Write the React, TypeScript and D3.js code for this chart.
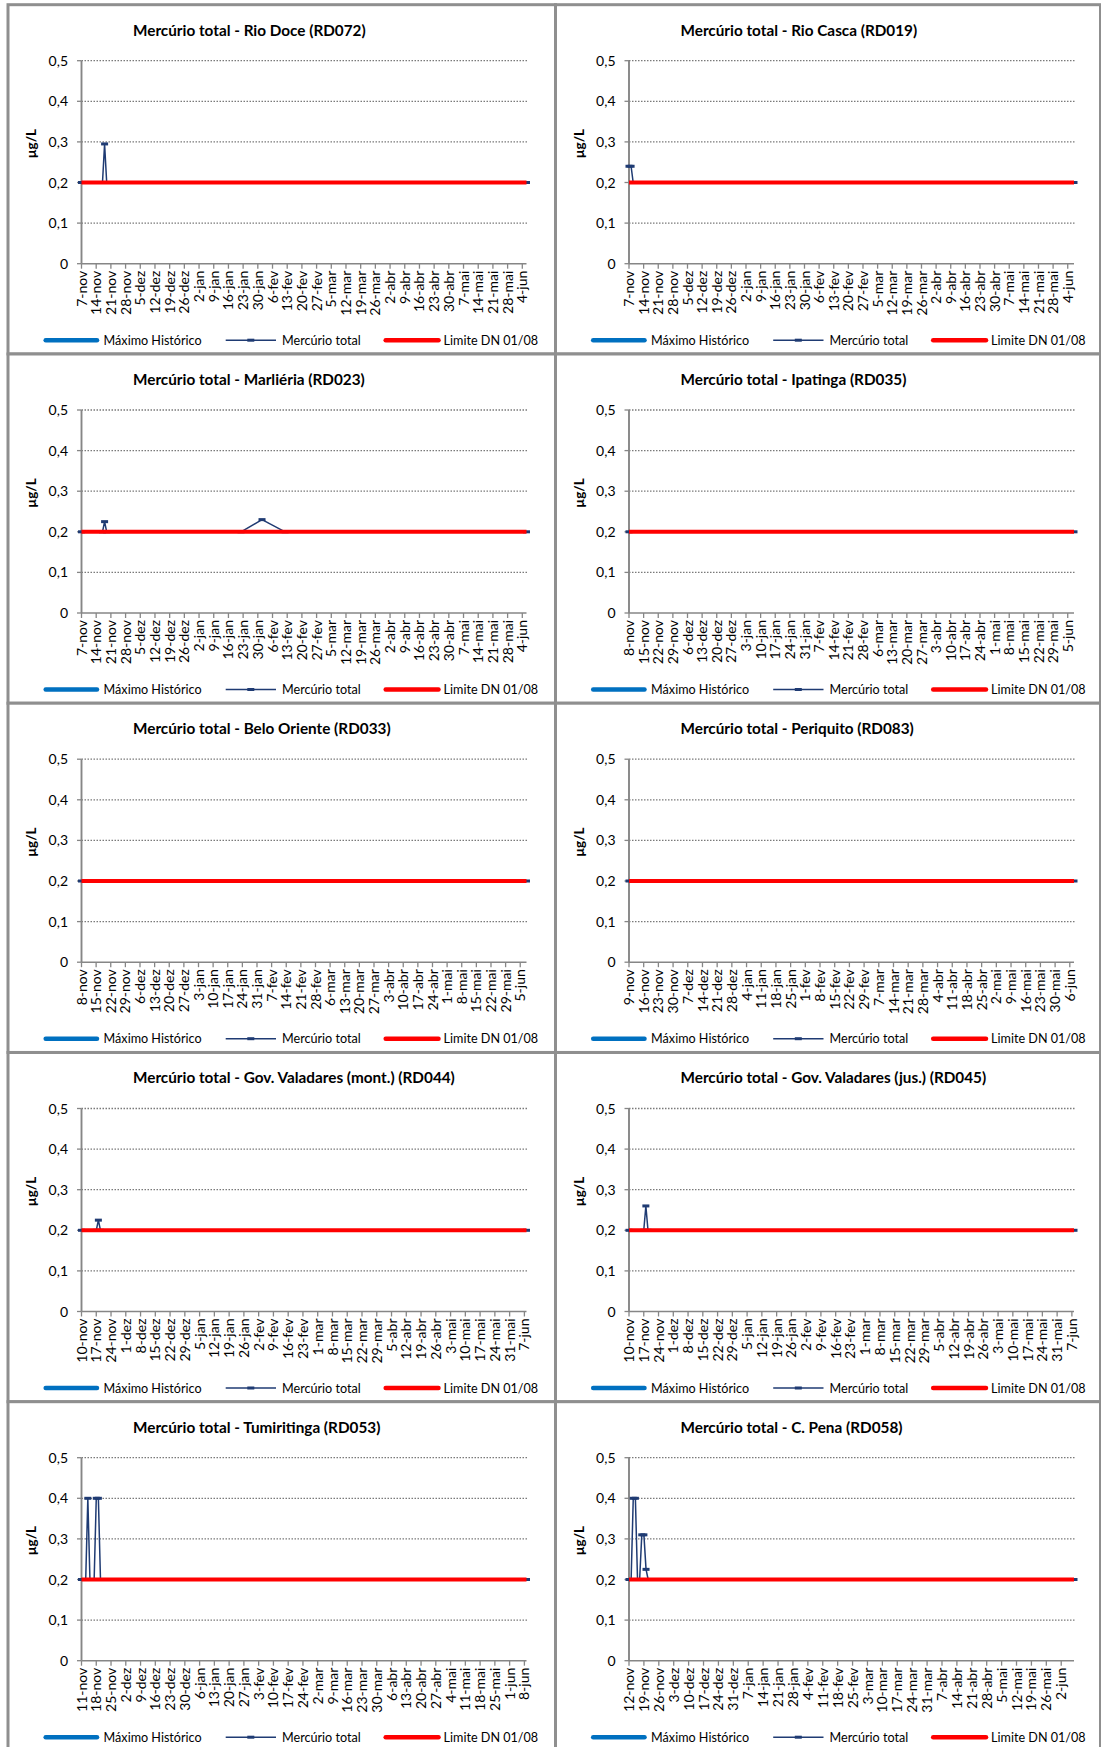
import React from "react";
import * as d3 from "d3";

// ---------- data ----------
const MONTHS_PT = ["jan", "fev", "mar", "abr", "mai", "jun", "jul", "ago", "set", "out", "nov", "dez"];
const Y_TICK_VALUES = [0, 0.1, 0.2, 0.3, 0.4, 0.5];
const Y_TICK_LABELS = ["0", "0,1", "0,2", "0,3", "0,4", "0,5"];
const Y_MAX = 0.5;
const Y_TITLE = "µg/L";
const LIMITE_DN = 0.2;
const LEGEND_LABELS = ["Máximo Histórico", "Mercúrio total", "Limite DN 01/08"];

const TITLES = [
  "Mercúrio total - Rio Doce (RD072)",
  "Mercúrio total - Rio Casca (RD019)",
  "Mercúrio total - Marliéria (RD023)",
  "Mercúrio total - Ipatinga (RD035)",
  "Mercúrio total - Belo Oriente (RD033)",
  "Mercúrio total - Periquito (RD083)",
  "Mercúrio total - Gov. Valadares (mont.) (RD044)",
  "Mercúrio total - Gov. Valadares (jus.) (RD045)",
  "Mercúrio total - Tumiritinga (RD053)",
  "Mercúrio total - C. Pena (RD058)",
];
const START_DATES = [
  "2015-11-07", "2015-11-07", "2015-11-07", "2015-11-08", "2015-11-08",
  "2015-11-09", "2015-11-10", "2015-11-10", "2015-11-11", "2015-11-12",
];
const END_DATES = [
  "2016-06-06", "2016-06-07", "2016-06-06", "2016-06-08", "2016-06-08",
  "2016-06-08", "2016-06-08", "2016-06-08", "2016-06-09", "2016-06-08",
];

type Pt = [string, number];
const HG_RD072: Pt[] = [["2015-11-07", 0.2], ["2015-11-17", 0.2], ["2015-11-18", 0.295], ["2015-11-19", 0.2], ["2016-06-06", 0.2]];
const HG_RD019: Pt[] = [["2015-11-07", 0.24], ["2015-11-08", 0.24], ["2015-11-09", 0.2], ["2016-06-07", 0.2]];
const HG_RD023: Pt[] = [["2015-11-07", 0.2], ["2015-11-17", 0.2], ["2015-11-18", 0.225], ["2015-11-19", 0.2], ["2016-01-22", 0.2], ["2016-02-01", 0.23], ["2016-02-12", 0.2], ["2016-06-06", 0.2]];
const HG_RD035: Pt[] = [["2015-11-08", 0.2], ["2016-06-08", 0.2]];
const HG_RD033: Pt[] = [["2015-11-08", 0.2], ["2016-06-08", 0.2]];
const HG_RD083: Pt[] = [["2015-11-09", 0.2], ["2016-06-08", 0.2]];
const HG_RD044: Pt[] = [["2015-11-10", 0.2], ["2015-11-17", 0.2], ["2015-11-18", 0.225], ["2015-11-19", 0.2], ["2016-06-08", 0.2]];
const HG_RD045: Pt[] = [["2015-11-10", 0.2], ["2015-11-17", 0.2], ["2015-11-18", 0.26], ["2015-11-19", 0.2], ["2016-06-08", 0.2]];
const HG_RD053: Pt[] = [["2015-11-11", 0.2], ["2015-11-13", 0.2], ["2015-11-14", 0.4], ["2015-11-15", 0.2], ["2015-11-17", 0.2], ["2015-11-18", 0.4], ["2015-11-19", 0.4], ["2015-11-20", 0.2], ["2016-06-09", 0.2]];
const HG_RD058: Pt[] = [["2015-11-12", 0.2], ["2015-11-13", 0.2], ["2015-11-14", 0.4], ["2015-11-15", 0.4], ["2015-11-16", 0.2], ["2015-11-17", 0.2], ["2015-11-18", 0.31], ["2015-11-19", 0.31], ["2015-11-20", 0.225], ["2015-11-21", 0.2], ["2016-06-08", 0.2]];
const HG_SERIES = [HG_RD072, HG_RD019, HG_RD023, HG_RD035, HG_RD033, HG_RD083, HG_RD044, HG_RD045, HG_RD053, HG_RD058];

// ---------- style / layout ----------
const W = 1101;
const H = 1747;
const COL_X = [8, 555.5];
const COL_W = [547.5, 545];
const ROW_Y = [4.7, 354, 703.2, 1052.5, 1401.7];
const ROW_H = 349.25;
const FONT = "Lato, 'Open Sans', sans-serif";
const C_MAX = "#0070C0";
const C_HG = "#1F3B73";
const C_LIM = "#FF0000";
const C_AXIS = "#868686";
const C_GRID = "#7a7a7a";
const C_TEXT = "#000000";
const TICK_FS = 14;
const LEGEND_FS = 12.6;
const TITLE_FS = 15.3;

const parse = d3.utcParse("%Y-%m-%d");

function Panel({ idx }: { idx: number }) {
  const col = idx % 2;
  const row = Math.floor(idx / 2);
  const x0 = COL_X[col];
  const y0 = ROW_Y[row];
  const start = parse(START_DATES[idx]) as Date;
  const end = parse(END_DATES[idx]) as Date;
  const x = d3.scaleUtc().domain([start, end]).range([x0 + 73.5, x0 + 518.5]);
  const y = d3.scaleLinear().domain([0, Y_MAX]).range([y0 + 259, y0 + 56]);
  const ticks = d3.utcDay.range(start, d3.utcDay.offset(end, 1), 7);
  const fmt = (d: Date) => `${d.getUTCDate()}-${MONTHS_PT[d.getUTCMonth()]}`;
  const line = d3
    .line<Pt>()
    .x((d) => x(parse(d[0]) as Date))
    .y((d) => y(d[1]));
  const hg = HG_SERIES[idx];
  const limite: Pt[] = [[START_DATES[idx], LIMITE_DN], [END_DATES[idx], LIMITE_DN]];
  const axisX = x0 + 73.5;
  const baseY = y(0);
  const ly = y0 + 335.5;

  return (
    <g>
      {/* title */}
      <text x={x0 + 125} y={y0 + 30.8} fontFamily={FONT} fontWeight="bold" fontSize={TITLE_FS} fill={C_TEXT}>
        {TITLES[idx]}
      </text>
      {/* y axis title */}
      <text
        transform={`translate(${x0 + 28},${y0 + 139}) rotate(-90)`}
        textAnchor="middle"
        fontFamily={FONT}
        fontWeight="bold"
        fontSize={13.5}
        fill={C_TEXT}
      >
        {Y_TITLE}
      </text>
      {/* gridlines */}
      {Y_TICK_VALUES.filter((v) => v > 0).map((v) => (
        <line key={"g" + v} x1={axisX} x2={x0 + 519} y1={y(v)} y2={y(v)} stroke={C_GRID} strokeWidth={1.3} strokeDasharray="1.5,1.5" />
      ))}
      {/* y ticks + labels */}
      {Y_TICK_VALUES.map((v, i) => (
        <g key={"y" + v}>
          <line x1={axisX - 4.5} x2={axisX} y1={y(v)} y2={y(v)} stroke={C_AXIS} strokeWidth={1.3} />
          <text x={x0 + 60} y={y(v)} dy="0.36em" textAnchor="end" fontFamily={FONT} fontSize={TICK_FS} fill={C_TEXT}>
            {Y_TICK_LABELS[i]}
          </text>
        </g>
      ))}
      {/* x axis */}
      <line x1={axisX} x2={x0 + 518.5} y1={baseY} y2={baseY} stroke={C_AXIS} strokeWidth={1.6} />
      {ticks.map((t) => (
        <g key={"x" + t.getTime()}>
          <line x1={x(t)} x2={x(t)} y1={baseY} y2={baseY + 5} stroke={C_AXIS} strokeWidth={1.3} />
          <text
            transform={`translate(${x(t)},${baseY + 7}) rotate(-90)`}
            dy="0.36em"
            textAnchor="end"
            fontFamily={FONT}
            fontSize={TICK_FS}
            fill={C_TEXT}
          >
            {fmt(t)}
          </text>
        </g>
      ))}
      {/* y axis */}
      <line x1={axisX} x2={axisX} y1={y(Y_MAX)} y2={baseY} stroke={C_AXIS} strokeWidth={1.9} />
      {/* Mercúrio total */}
      <path d={line(hg) || ""} fill="none" stroke={C_HG} strokeWidth={1.5} strokeLinejoin="round" />
      {hg.map((d, i) => (
        <rect key={"m" + i} x={x(parse(d[0]) as Date) - 3.5} y={y(d[1]) - 1.5} width={7} height={3} fill={C_HG} />
      ))}
      {/* Limite DN */}
      <path d={line(limite) || ""} fill="none" stroke={C_LIM} strokeWidth={4} />
      {/* legend */}
      <line x1={x0 + 37.7} x2={x0 + 89} y1={ly} y2={ly} stroke={C_MAX} strokeWidth={4.5} strokeLinecap="round" />
      <text x={x0 + 95.6} y={ly} dy="0.36em" fontFamily={FONT} fontSize={LEGEND_FS} fill={C_TEXT}>
        {LEGEND_LABELS[0]}
      </text>
      <line x1={x0 + 217.7} x2={x0 + 268} y1={ly} y2={ly} stroke={C_HG} strokeWidth={1.5} />
      <rect x={x0 + 242.8 - 3.5} y={ly - 1.5} width={7} height={3} fill={C_HG} />
      <text x={x0 + 274} y={ly} dy="0.36em" fontFamily={FONT} fontSize={LEGEND_FS} fill={C_TEXT}>
        {LEGEND_LABELS[1]}
      </text>
      <line x1={x0 + 377.7} x2={x0 + 430.5} y1={ly} y2={ly} stroke={C_LIM} strokeWidth={4.5} strokeLinecap="round" />
      <text x={x0 + 435.6} y={ly} dy="0.36em" fontFamily={FONT} fontSize={LEGEND_FS} fill={C_TEXT}>
        {LEGEND_LABELS[2]}
      </text>
    </g>
  );
}

export default function App() {
  return (
    <svg
      width={W}
      height={H}
      viewBox={`0 0 ${W} ${H}`}
      style={{ position: "absolute", left: 0, top: 0, display: "block", background: "#fff" }}
    >
      <rect x={0} y={0} width={W} height={H} fill="#fff" />
      {TITLES.map((_, i) => {
        const col = i % 2;
        const row = Math.floor(i / 2);
        return (
          <rect key={"b" + i} x={COL_X[col]} y={ROW_Y[row]} width={COL_W[col]} height={ROW_H} fill="#fff" stroke="#8f8f8f" strokeWidth={3} />
        );
      })}
      {TITLES.map((_, i) => (
        <Panel key={i} idx={i} />
      ))}
    </svg>
  );
}
